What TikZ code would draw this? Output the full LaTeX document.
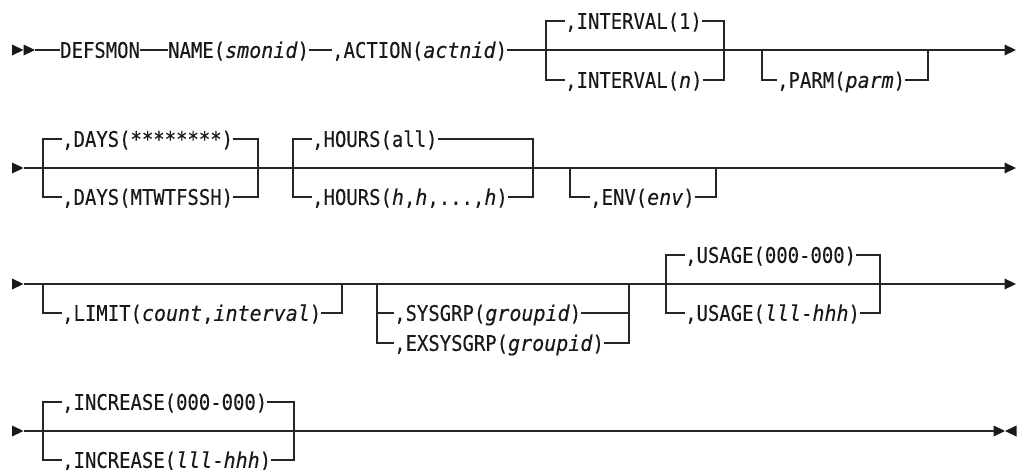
\documentclass[tikz,border=0pt]{standalone}
\usepackage{fontspec}
\newfontfamily\railfont{DejaVu Sans Mono}[
  UprightFeatures={FakeStretch=0.88, FakeBold=0.25},
  ItalicFeatures={FakeStretch=0.93, FakeBold=0.25}]
\newcommand\var[1]{\textit{#1}}
\tikzset{
  rail/.style={line width=1.3pt, draw=black!85, line join=miter},
  kw/.style={inner sep=0pt, anchor=west, text height=15.7pt, text depth=0pt,
    font=\railfont\fontsize{21.5}{25}\selectfont, text=black!90},
  pics/railhead/.style={code={\fill[black!90] (-11.5,-5.5) -- (0,0) -- (-11.5,5.5) -- cycle;}},
  pics/railstop/.style={code={\fill[black!90] (11.5,-5.5) -- (0,0) -- (11.5,5.5) -- cycle;}}
}
\begin{document}
\begin{tikzpicture}[x=1pt,y=-1pt]
\useasboundingbox (0,0) rectangle (1019,469);

% ---------- row 1 ----------
\coordinate (a1) at (35,50);
\coordinate (z1) at (1016,50);
\coordinate (intL) at (546,50);
\coordinate (intR) at (724,50);
\coordinate (parmL) at (762,50);
\coordinate (parmR) at (928,50);
\node[kw] (defsmon) at (60,50) {DEFSMON};
\node[kw] (name) at (168,50) {NAME(\var{smonid})};
\node[kw] (action) at (332,50) {,ACTION(\var{actnid})};
\node[kw] (int1) at (565,21) {,INTERVAL(1)};
\node[kw] (intn) at (565,80) {,INTERVAL(\var{n})};
\node[kw] (parm) at (777,80) {,PARM(\var{parm})};
\pic at (23.5,50) {railhead};
\pic at (a1) {railhead};
\pic at (z1) {railhead};
\draw[rail] (a1) -- (defsmon.west);
\draw[rail] (defsmon.east) -- (name.west);
\draw[rail] (name.east) -- (action.west);
\draw[rail, shorten >=10pt] (action.east) -- (z1);
\draw[rail] (int1.west) -| (intL |- intn.west) -- (intn.west);
\draw[rail] (int1.east) -| (intR |- intn.east) -- (intn.east);
\draw[rail] (parmL) |- (parm.west);
\draw[rail] (parm.east) -| (parmR);

% ---------- row 2 ----------
\coordinate (a2) at (23.5,168);
\coordinate (z2) at (1016,168);
\coordinate (daysL) at (43,168);
\coordinate (daysR) at (258,168);
\coordinate (hrsL) at (293,168);
\coordinate (hrsR) at (533,168);
\coordinate (envL) at (570,168);
\coordinate (envR) at (716,168);
\node[kw] (days1) at (62,139) {,DAYS(********)};
\node[kw] (days2) at (62,197) {,DAYS(MTWTFSSH)};
\node[kw] (hrs1) at (312,139) {,HOURS(all)};
\node[kw] (hrs2) at (312,197) {,HOURS(\var{h},\var{h},...,\var{h})};
\node[kw] (env) at (590,197) {,ENV(\var{env})};
\pic at (a2) {railhead};
\pic at (z2) {railhead};
\draw[rail, shorten >=10pt] (a2) -- (z2);
\draw[rail] (days1.west) -| (daysL |- days2.west) -- (days2.west);
\draw[rail] (days1.east) -| (daysR |- days2.east) -- (days2.east);
\draw[rail] (hrs1.west) -| (hrsL |- hrs2.west) -- (hrs2.west);
\draw[rail] (hrs1.east) -| (hrsR |- hrs2.east) -- (hrs2.east);
\draw[rail] (envL) |- (env.west);
\draw[rail] (env.east) -| (envR);

% ---------- row 3 ----------
\coordinate (a3) at (23.5,284);
\coordinate (z3) at (1016,284);
\coordinate (limL) at (43,284);
\coordinate (limR) at (342,284);
\coordinate (sysL) at (377,284);
\coordinate (sysR) at (629,284);
\coordinate (useL) at (666,284);
\coordinate (useR) at (880,284);
\node[kw] (limit) at (62,313) {,LIMIT(\var{count},\var{interval})};
\node[kw] (sys) at (394,313) {,SYSGRP(\var{groupid})};
\node[kw] (exsys) at (394,343) {,EXSYSGRP(\var{groupid})};
\node[kw] (use1) at (685,255) {,USAGE(000-000)};
\node[kw] (use2) at (685,313) {,USAGE(\var{lll}-\var{hhh})};
\pic at (a3) {railhead};
\pic at (z3) {railhead};
\draw[rail, shorten >=10pt] (a3) -- (z3);
\draw[rail] (limL) |- (limit.west);
\draw[rail] (limit.east) -| (limR);
\draw[rail] (sysL) |- (exsys.west);
\draw[rail] (sysL |- sys.west) -- (sys.west);
\draw[rail] (sysR) |- (exsys.east);
\draw[rail] (sys.east) -- (sysR |- sys.east);
\draw[rail] (use1.west) -| (useL |- use2.west) -- (use2.west);
\draw[rail] (use1.east) -| (useR |- use2.east) -- (use2.east);

% ---------- row 4 ----------
\coordinate (a4) at (23.5,431);
\coordinate (z4) at (1005,431);
\coordinate (incL) at (43,431);
\coordinate (incR) at (294,431);
\node[kw] (inc1) at (62,402) {,INCREASE(000-000)};
\node[kw] (inc2) at (62,460) {,INCREASE(\var{lll}-\var{hhh})};
\pic at (a4) {railhead};
\pic at (z4) {railhead};
\pic at (z4) {railstop};
\draw[rail, shorten >=10pt] (a4) -- (z4);
\draw[rail] (inc1.west) -| (incL |- inc2.west) -- (inc2.west);
\draw[rail] (inc1.east) -| (incR |- inc2.east) -- (inc2.east);
\end{tikzpicture}
\end{document}
